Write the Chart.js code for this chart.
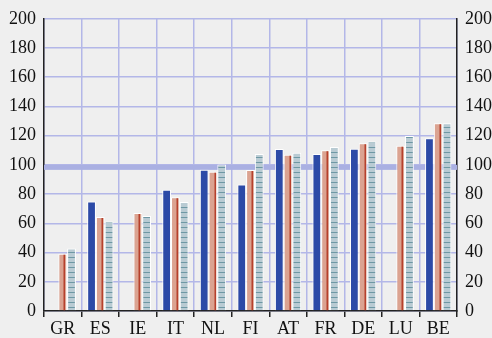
<!DOCTYPE html>
<html>
<head>
<meta charset="utf-8">
<script src="https://cdn.jsdelivr.net/npm/chart.js@4/dist/chart.umd.min.js"></script>
<style>
  html, body { margin: 0; padding: 0; background: #efefef; }
  #wrap { width: 492px; height: 338px; position: relative; }
</style>
</head>
<body>
<div id="wrap"><canvas id="chart"></canvas></div>
<script>
// data
const categories = ['GR', 'ES', 'IE', 'IT', 'NL', 'FI', 'AT', 'FR', 'DE', 'LU', 'BE'];
const blueValues = [null, 75, null, 83, 96.7, 86.5, 110.8, 107.4, 111, null, 118.3];
const redValues = [39.1, 64.4, 67.1, 77.8, 95.3, 96.5, 107, 110.1, 114.9, 113.1, 128.5];
const tealValues = [42.8, 61.2, 65.1, 74.6, 100.3, 107.4, 108.3, 112.2, 116, 119.7, 128.5];
const yTicks = [0, 20, 40, 60, 80, 100, 120, 140, 160, 180, 200];
const refLine = 98.3;

document.addEventListener('DOMContentLoaded', function() {
    // striped fill for the third series
    const pc = document.createElement('canvas');
    pc.width = 4;
    pc.height = 5;
    const pctx = pc.getContext('2d');
    pctx.fillStyle = '#b9cbd3';
    pctx.fillRect(0, 0, 4, 5);
    pctx.fillStyle = '#6e98a4';
    pctx.fillRect(0, 2, 4, 1);
    const ctx = document.getElementById('chart').getContext('2d');
    const tealPattern = ctx.createPattern(pc, 'repeat');

    // band at the reference value, behind the bars
    const bandPlugin = {
        id: 'band',
        beforeDatasetsDraw(chart) {
            const c = chart.ctx, a = chart.chartArea;
            const y = chart.scales.y.getPixelForValue(refLine);
            c.save();
            c.fillStyle = '#aab0e2';
            c.fillRect(a.left, y - 2.5, a.right - a.left, 5);
            c.restore();
        },
        afterDatasetsDraw(chart) {
            // dark stroke inside the salmon bars
            const c = chart.ctx;
            const meta = chart.getDatasetMeta(1);
            c.save();
            c.strokeStyle = '#b6402c';
            c.lineWidth = 1.5;
            meta.data.forEach(bar => {
                if (bar.skip) return;
                const x = Math.round(bar.x + bar.width * 0.18) + 0.25;
                c.beginPath();
                c.moveTo(x, bar.y + 1);
                c.lineTo(x, bar.base);
                c.stroke();
            });
            c.restore();
        }
    };

    const font = { family: 'Liberation Serif', size: 18 };
    const gridColor = '#b3b7e8';

    new Chart(ctx, {
        type: 'bar',
        data: {
            labels: categories,
            datasets: [
                { data: blueValues, backgroundColor: '#2c4aa7' },
                { data: redValues, backgroundColor: '#dba391' },
                { data: tealValues, backgroundColor: tealPattern }
            ]
        },
        options: {
            responsive: true,
            maintainAspectRatio: false,
            animation: false,
            layout: { padding: { top: 17, left: 0, right: 0, bottom: 0 } },
            datasets: {
                bar: {
                    categoryPercentage: 0.7,
                    barPercentage: 1,
                    borderColor: '#ffffff',
                    borderWidth: 1,
                    borderSkipped: 'start'
                }
            },
            plugins: {
                legend: { display: false },
                tooltip: { enabled: false }
            },
            scales: {
                x: {
                    offset: true,
                    grid: {
                        offset: true,
                        color: gridColor,
                        lineWidth: 1.5,
                        tickColor: '#222',
                        tickLength: 6,
                        tickWidth: 1.5
                    },
                    border: { display: true, color: '#222', width: 1.5 },
                    ticks: { font: font, color: '#111', padding: 1, maxRotation: 0 },
                    afterFit(scale) { scale.height = 27; }
                },
                y: {
                    position: 'left',
                    min: 0,
                    max: 200,
                    afterBuildTicks(scale) { scale.ticks = yTicks.map(v => ({ value: v })); },
                    grid: { color: gridColor, lineWidth: 1.5, drawTicks: false },
                    border: { display: true, color: '#222', width: 1.5 },
                    ticks: { font: font, color: '#111', padding: 8 },
                    afterFit(scale) { scale.width = 44; }
                },
                y1: {
                    position: 'right',
                    min: 0,
                    max: 200,
                    afterBuildTicks(scale) { scale.ticks = yTicks.map(v => ({ value: v })); },
                    grid: { drawOnChartArea: false, drawTicks: false },
                    border: { display: true, color: '#222', width: 1.5 },
                    ticks: { font: font, color: '#111', padding: 8 },
                    afterFit(scale) { scale.width = 35; }
                }
            }
        },
        plugins: [bandPlugin]
    });
});
</script>
</body>
</html>
